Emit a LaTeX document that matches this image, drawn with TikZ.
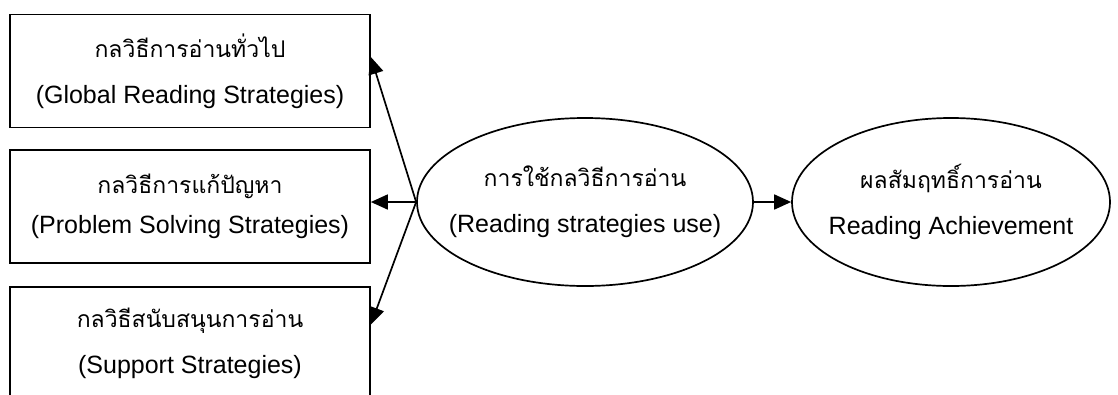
\documentclass[tikz,border=0pt]{standalone}
\usepackage{fontspec}
\setmainfont{Liberation Sans}
\newfontfamily\thaifont[Script=Thai]{Loma}
\usetikzlibrary{shapes.geometric,arrows.meta}

\begin{document}
\begin{tikzpicture}[x=1pt,y=-1pt,line width=1.7pt,
		box/.style={draw,minimum width=360pt,minimum height=113pt,align=center,inner sep=0pt},
		oval/.style={draw,ellipse,minimum width=336pt,minimum height=168pt,align=center,inner xsep=-25pt,inner ysep=0pt},
		arr/.style={-{Triangle[length=17pt,width=15pt]}},
		font=\fontsize{25}{30}\selectfont]
		\useasboundingbox (0,0) rectangle (1118,394);
		\node[box] (global) at (190,71) {\thaifont\fontsize{23}{27}\selectfont กลวิธีการอ่านทั่วไป\\[16pt] (Global Reading Strategies)};
		\node[box] (problem) at (190,206.5) {\thaifont\fontsize{23}{27}\selectfont กลวิธีการแก้ปัญหา\\[10pt] (Problem Solving Strategies)};
		\node[box] (support) at (190,343.5) {\thaifont\fontsize{23}{27}\selectfont กลวิธีสนับสนุนการอ่าน\\[16pt] (Support Strategies)};
		\node[oval] (use) at (585,202) {\thaifont\fontsize{23}{27}\selectfont การใช้กลวิธีการอ่าน\\[16pt] (Reading strategies use)};
		\node[oval,minimum width=318pt] (achieve) at (951,202) {\thaifont\fontsize{23}{27}\selectfont ผลสัมฤทธิ์การอ่าน\\[16pt] Reading Achievement};
		\draw[arr] (use.west) -- ([yshift=14pt]global.east);
		\draw[arr] (use.west) -- (problem.east |- use.west);
		\draw[arr] (use.west) -- ([yshift=19pt]support.east);
		\draw[arr] (use.east) -- (achieve.west);
		\end{tikzpicture}
\end{document}
